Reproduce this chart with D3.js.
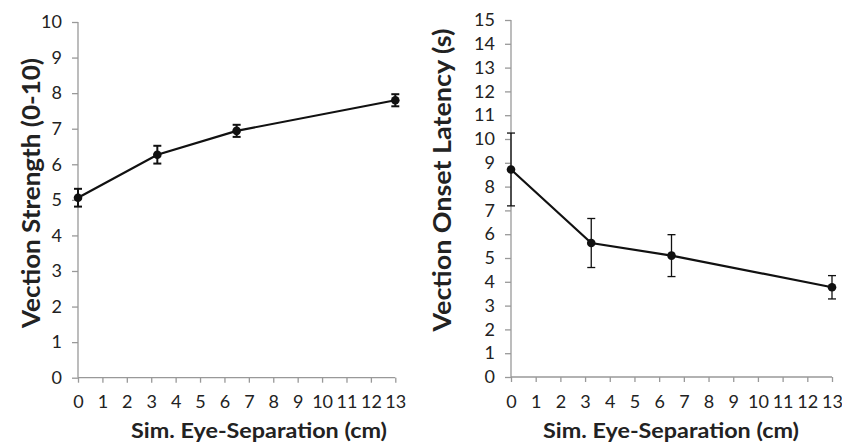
<!DOCTYPE html>
<html><head><meta charset="utf-8">
<script src="https://cdn.jsdelivr.net/npm/d3@7"></script>
<style>body{margin:0;background:#fff}svg{display:block}text{font-family:Lato,"Open Sans",sans-serif;fill:#222}</style>
</head><body><svg id="c" width="842" height="442"></svg>
<script>
const separation = [0, 3.25, 6.5, 13];
const strength = [5.06, 6.27, 6.94, 7.80];
const strengthErr = [0.25, 0.25, 0.17, 0.17];
const latency = [8.72, 5.63, 5.10, 3.77];
const latencyErr = [1.53, 1.03, 0.88, 0.49];
const xTicks = d3.range(0, 14);
const strengthTicks = d3.range(0, 11);
const latencyTicks = d3.range(0, 16);
const xTitle = "Sim. Eye-Separation (cm)";

const svg = d3.select("#c");

function panel(o) {
  const x = d3.scaleLinear().domain([0, 13]).range([o.x0, o.x1]);
  const y = d3.scaleLinear().domain([0, o.ymax]).range([o.y0, o.y1]);
  const g = svg.append("g");
  const ya = g.append("g").attr("transform", `translate(${o.x0},0)`)
    .call(d3.axisLeft(y).tickValues(o.yticks).tickSize(6).tickPadding(10).tickFormat(d3.format("d")));
  const xa = g.append("g").attr("transform", `translate(0,${o.y0})`)
    .call(d3.axisBottom(x).tickValues(xTicks).tickSize(5).tickPadding(13).tickFormat(d3.format("d")));
  [ya, xa].forEach(a => {
    a.attr("font-size", null).attr("font-family", null);
    a.select(".domain").attr("stroke", "#999").attr("stroke-width", 1.3);
    a.selectAll(".tick line").attr("stroke", "#999").attr("stroke-width", 1.3);
    a.selectAll(".tick text").style("font-size", "18px").style("fill", "#222")
      .style("font-family", "Lato, sans-serif");
  });
  ya.select(".domain").attr("d", `M0,${o.y0}V${o.y1}`);
  xa.select(".domain").attr("d", `M${o.x0},0H${o.x1}`);
  const pts = separation.map((s, i) => [s, o.vals[i], o.errs[i]]);
  g.append("path").datum(pts)
    .attr("fill", "none").attr("stroke", "#111").attr("stroke-width", 2.2)
    .attr("d", d3.line().x(d => x(d[0])).y(d => y(d[1])));
  const eb = g.selectAll(".eb").data(pts).enter().append("g")
    .attr("stroke", "#111").attr("stroke-width", o.ew);
  eb.append("line").attr("x1", d => x(d[0])).attr("x2", d => x(d[0]))
    .attr("y1", d => y(d[1] - d[2])).attr("y2", d => y(d[1] + d[2]));
  eb.append("line").attr("x1", d => x(d[0]) - 4).attr("x2", d => x(d[0]) + 4)
    .attr("y1", d => y(d[1] + d[2])).attr("y2", d => y(d[1] + d[2]));
  eb.append("line").attr("x1", d => x(d[0]) - 4).attr("x2", d => x(d[0]) + 4)
    .attr("y1", d => y(d[1] - d[2])).attr("y2", d => y(d[1] - d[2]));
  g.selectAll(".pt").data(pts).enter().append("circle")
    .attr("cx", d => x(d[0])).attr("cy", d => y(d[1])).attr("r", 4.3).attr("fill", "#111");
  g.append("text").attr("transform", `translate(${o.tx},${o.ty}) rotate(-90)`)
    .attr("text-anchor", "middle").attr("dominant-baseline", "central")
    .style("font-weight", "bold").style("font-size", "25px")
    .attr("textLength", o.tlen).attr("lengthAdjust", "spacingAndGlyphs").text(o.title);
  g.append("text").attr("x", o.xtx).attr("y", 429)
    .attr("text-anchor", "middle").attr("dominant-baseline", "central")
    .style("font-weight", "bold").style("font-size", "21px")
    .attr("textLength", 256).attr("lengthAdjust", "spacingAndGlyphs").text(xTitle);
}

panel({x0: 78, x1: 395.3, y0: 377.7, y1: 22, ymax: 10, yticks: strengthTicks,
  vals: strength, errs: strengthErr, ew: 2, title: "Vection Strength (0-10)",
  tx: 30, ty: 193, tlen: 270, xtx: 259});
panel({x0: 511, x1: 832, y0: 377, y1: 20, ymax: 15, yticks: latencyTicks,
  vals: latency, errs: latencyErr, ew: 1.3, title: "Vection Onset Latency (s)",
  tx: 441, ty: 180, tlen: 303, xtx: 671});
</script></body></html>
